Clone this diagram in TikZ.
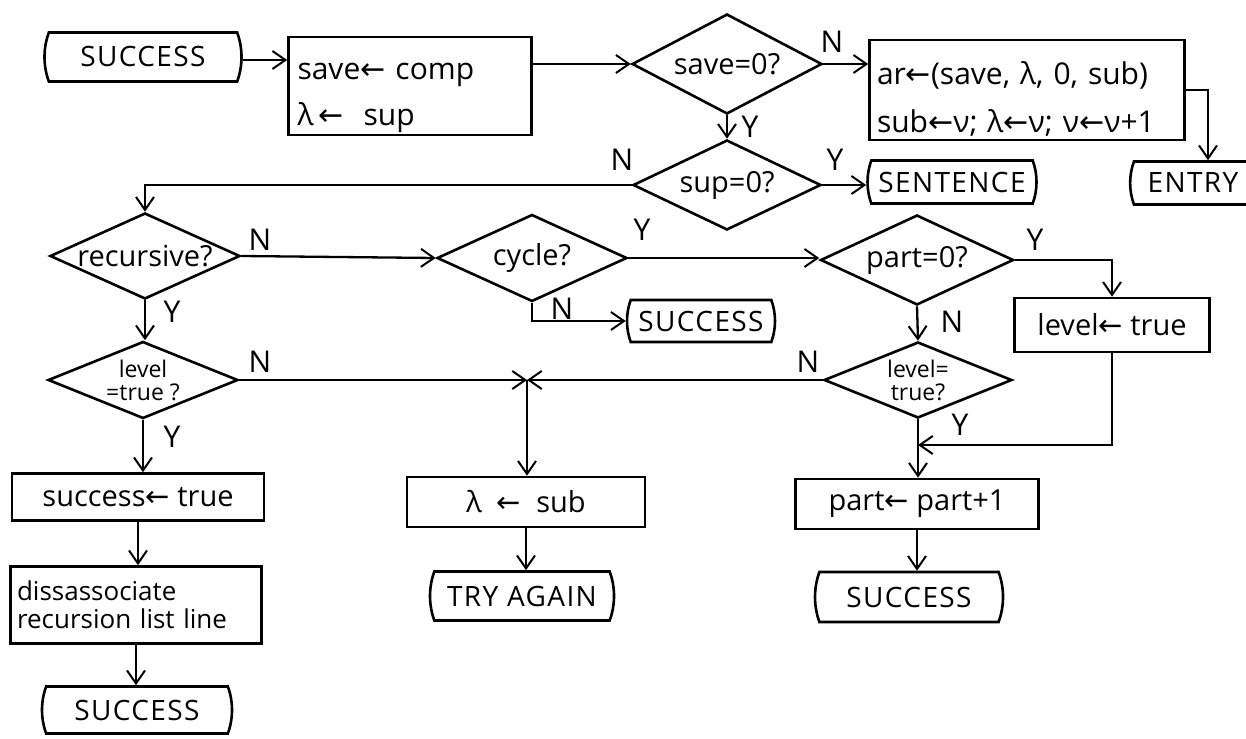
\documentclass[tikz,border=0pt]{standalone}
\usepackage{fontspec}
\setmainfont{Open Sans}
\newfontfamily\symf{DejaVu Sans}
\usetikzlibrary{shapes.geometric,shapes.misc,arrows.meta}
% assignment arrow
\newcommand{\asg}{{\symf ←}}
\newcommand{\bodysz}{\fontsize{29}{32}\selectfont}
\newcommand{\smallsz}{\fontsize{23}{23}\selectfont}
\newcommand{\capsz}{\fontsize{28}{32}\selectfont\addfontfeature{LetterSpace=5}}
\newcommand{\ynsz}{\fontsize{30}{32}\selectfont}
\tikzset{
  every node/.style={font=\bodysz},
  proc/.style={draw, line width=2.6pt, rectangle, inner sep=0pt},
  term/.style={draw, line width=2.6pt, rounded rectangle,
    rounded rectangle arc length=40, inner sep=0pt, font=\capsz},
  dec/.style={draw, line width=2.6pt, diamond, inner sep=0pt, aspect=2.2},
  flow/.style={line width=2.3pt,
    -{Straight Barb[length=13pt,width=18pt,line width=2pt]}},
  yn/.style={font=\ynsz, inner sep=0pt}
}
\begin{document}
\begin{tikzpicture}[x=1pt,y=-1pt]
\useasboundingbox (0,0) rectangle (1246,738);
\fill[white] (0,0) rectangle (1246,738);

% ---- top row ----
\node[term, minimum width=197pt, minimum height=49pt] (t1) at (143,57) {SUCCESS};
\node[proc, minimum width=243pt, minimum height=98pt, text width=225pt,
      align=left, font=\fontsize{30}{46}\selectfont] (b1) at (410,86)
      {\rule{0pt}{40pt}save\asg\ comp\\λ\,\asg\ \ sup};
\node[dec, minimum width=190pt, minimum height=100pt] (d1) at (727,64) {save=0?};
\node[proc, minimum width=315pt, minimum height=100pt, text width=300pt,
      align=left, font=\fontsize{30}{48}\selectfont] (b2) at (1027,90)
      {\rule{0pt}{40pt}ar\asg(save, λ, 0, sub)\\sub\asg ν; λ\asg ν; ν\asg ν+1};
\node[dec, minimum width=188pt, minimum height=90pt] (d2) at (727,185) {sup=0?};
\node[term, minimum width=169pt, minimum height=43pt] (t2) at (952,182) {SENTENCE};
\node[term, minimum width=124pt, minimum height=43pt] (t7) at (1193,183) {ENTRY};

% ---- second row ----
\node[dec, minimum width=190pt, minimum height=86pt] (d3) at (145,256) {recursive?};
\node[dec, minimum width=190pt, minimum height=87pt] (d4) at (532,258) {cycle?};
\node[dec, minimum width=193pt, minimum height=90pt] (d5) at (917,260) {part=0?};
\node[term, minimum width=148pt, minimum height=42pt] (t3) at (701,321) {SUCCESS};
\node[proc, minimum width=195pt, minimum height=54pt] (b3) at (1112,325) {level\asg\ true};

% ---- third row ----
\node[dec, minimum width=190pt, minimum height=77pt, align=center,
      font=\smallsz] (d7) at (143,380) {level\\=true ?};
\node[dec, minimum width=188pt, minimum height=76pt, align=center,
      font=\smallsz] (d6) at (918,380) {level=\\true?};
\coordinate (m) at (527,380);
\coordinate (j) at (918,445);

% ---- lower boxes ----
\node[proc, minimum width=252pt, minimum height=47pt] (b5) at (138,497) {success\asg\ true};
\node[proc, minimum width=251pt, minimum height=77pt, text width=238pt,
      align=left, font=\fontsize{26}{28}\selectfont] (b6) at (136,605)
      {dissassociate\\recursion list line};
\node[term, minimum width=190pt, minimum height=47pt] (t5) at (137,710) {SUCCESS};
\node[proc, minimum width=238pt, minimum height=50pt] (b4) at (526,502) {λ\ \ \asg\ \ sub};
\node[term, minimum width=184pt, minimum height=49pt] (t4) at (522,596) {TRY AGAIN};
\node[proc, minimum width=243pt, minimum height=50pt] (b7) at (917,504) {part\asg\ part+1};
\node[term, minimum width=188pt, minimum height=50pt] (t6) at (909,597) {SUCCESS};

% ---- connectors ----
\draw[flow] (t1.east |- 0,60) -- (b1.west |- 0,60);
\draw[flow] (b1.east |- d1.west) -- (d1.west);
\draw[flow] (d1.east) -- (d1.east -| b2.west);
\draw[flow] (b2.east) -| ([xshift=15pt]t7.north);
\draw[flow] (d1.south) -- (d2.north);
\draw[flow] (d2.east) -- (d2.east -| t2.west);
\draw[flow] (d2.west) -| (d3.north);
\draw[flow] (d3.east) -- (d4.west);
\draw[flow] (d4.east) -- (d4.east -| d5.west);
\draw[flow] (d4.south) |- (t3.west);
\draw[flow] (d5.east) -| (b3.north);
\draw[flow] (d5.south) -- (d6.north);
\draw[flow] (d3.south) -- (d3.south |- d7.north);
\draw[flow] (d7.east) -- (m);
\draw[flow] (d6.west) -- (m);
\draw[flow] (m) -- (m |- b4.north);
\draw[flow] (b4.south) -- (b4.south |- t4.north);
\draw[flow] (d7.south) -- (d7.south |- b5.north);
\draw[flow] (b5.south) -- (b5.south |- b6.north);
\draw[flow] (b6.south) -- (b6.south |- t5.north);
\draw[flow] (b3.south) |- (j);
\draw[flow] (d6.south) -- (d6.south |- b7.north);
\draw[flow] (b7.south) -- (b7.south |- t6.north);

% ---- branch labels ----
\node[yn] (l1) at (832,42) {N};
\node[yn] (l2) at (750,127) {Y};
\node[yn] (l3) at (835,160) {Y};
\node[yn] (l4) at (622,160) {N};
\node[yn] (l5) at (260,240) {N};
\node[yn] (l6) at (642,230) {Y};
\node[yn] (l7) at (562,309) {N};
\node[yn] (l8) at (1035,240) {Y};
\node[yn] (l9) at (952,322) {N};
\node[yn] (l10) at (172,312) {Y};
\node[yn] (l11) at (260,362) {N};
\node[yn] (l12) at (172,437) {Y};
\node[yn] (l13) at (808,362) {N};
\node[yn] (l14) at (960,425) {Y};
\end{tikzpicture}
\end{document}
